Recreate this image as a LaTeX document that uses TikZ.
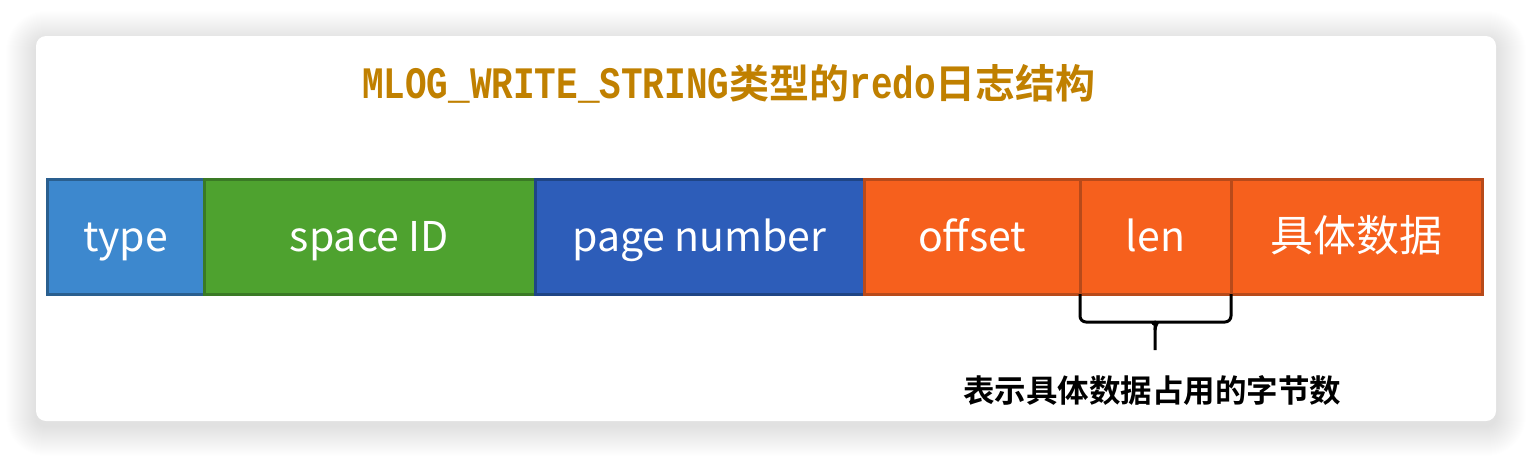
\documentclass[tikz,border=0pt]{standalone}
\usepackage{fontspec}
\setmainfont{Noto Sans CJK SC}
\newfontfamily\cjk{Noto Sans CJK SC}[BoldFont={Noto Sans CJK SC Bold}]
\newfontfamily\monof{Liberation Mono}
\definecolor{titlec}{RGB}{192,128,0}
\definecolor{typefill}{RGB}{61,136,206}
\definecolor{typeborder}{RGB}{42,95,143}
\definecolor{spacefill}{RGB}{78,162,47}
\definecolor{spaceborder}{RGB}{58,122,37}
\definecolor{pagefill}{RGB}{45,93,185}
\definecolor{pageborder}{RGB}{31,69,133}
\definecolor{orfill}{RGB}{246,96,29}
\definecolor{orborder}{RGB}{184,74,26}
\newcommand{\tlat}[1]{\scalebox{1}[1.25]{\monof\bfseries #1}}
\tikzset{
  field/.style={rectangle, line width=3pt, minimum height=115, anchor=west, inner sep=0pt,
    outer sep=0pt, text height=37pt, text depth=8pt,
    text=white, font=\fontsize{41}{45}\selectfont},
  bracestyle/.style={draw=black, line width=3pt},
}
\begin{document}
\begin{tikzpicture}[x=1pt,y=-1pt]
\useasboundingbox (0,0) rectangle (1532,458);
\fill[white] (0,0) rectangle (1532,458);
\foreach \i in {1,...,30} {
  \fill[black, opacity=0.0055, rounded corners=10+\i] (36-\i,36-\i+5) rectangle (1496+\i,421+\i+5);
}
\fill[white, rounded corners=10] (36,36) rectangle (1496,421);

\node[text=titlec, inner sep=0pt] (title) at (729,84)
  {\fontsize{36}{40}\selectfont\tlat{MLOG\_WRITE\_STRING}{\cjk\bfseries\fontsize{40}{44}\selectfont 类型的}\tlat{redo}{\cjk\bfseries\fontsize{40}{44}\selectfont 日志结构}};

\node[field, fill=typefill, draw=typeborder, minimum width=157] (type) at (47,236.5) {type};
\node[field, fill=spacefill, draw=spaceborder, minimum width=331] (space) at (type.east) {space ID};
\node[field, fill=pagefill, draw=pageborder, minimum width=329] (page) at (space.east) {page number};
\node[field, fill=orfill, draw=orborder, minimum width=216] (offset) at (page.east) {offset};
\node[field, fill=orfill, draw=orborder, minimum width=151] (len) at (offset.east) {len};
\node[field, fill=orfill, draw=orborder, minimum width=251, font=\fontsize{43}{47}\selectfont] (data) at (len.east) {具体数据};

\coordinate (tip) at (1155,350);
\draw[bracestyle, rounded corners=6] (len.south west) |- (1147,322) to[out=0,in=90] (1155,330) -- (tip);
\draw[bracestyle, rounded corners=6] (len.south east) |- (1163,322) to[out=180,in=90] (1155,330);

\node[inner sep=0pt, font=\cjk\bfseries\fontsize{31.5}{34}\selectfont] (lbl) at (1152,390) {表示具体数据占用的字节数};
\end{tikzpicture}
\end{document}
